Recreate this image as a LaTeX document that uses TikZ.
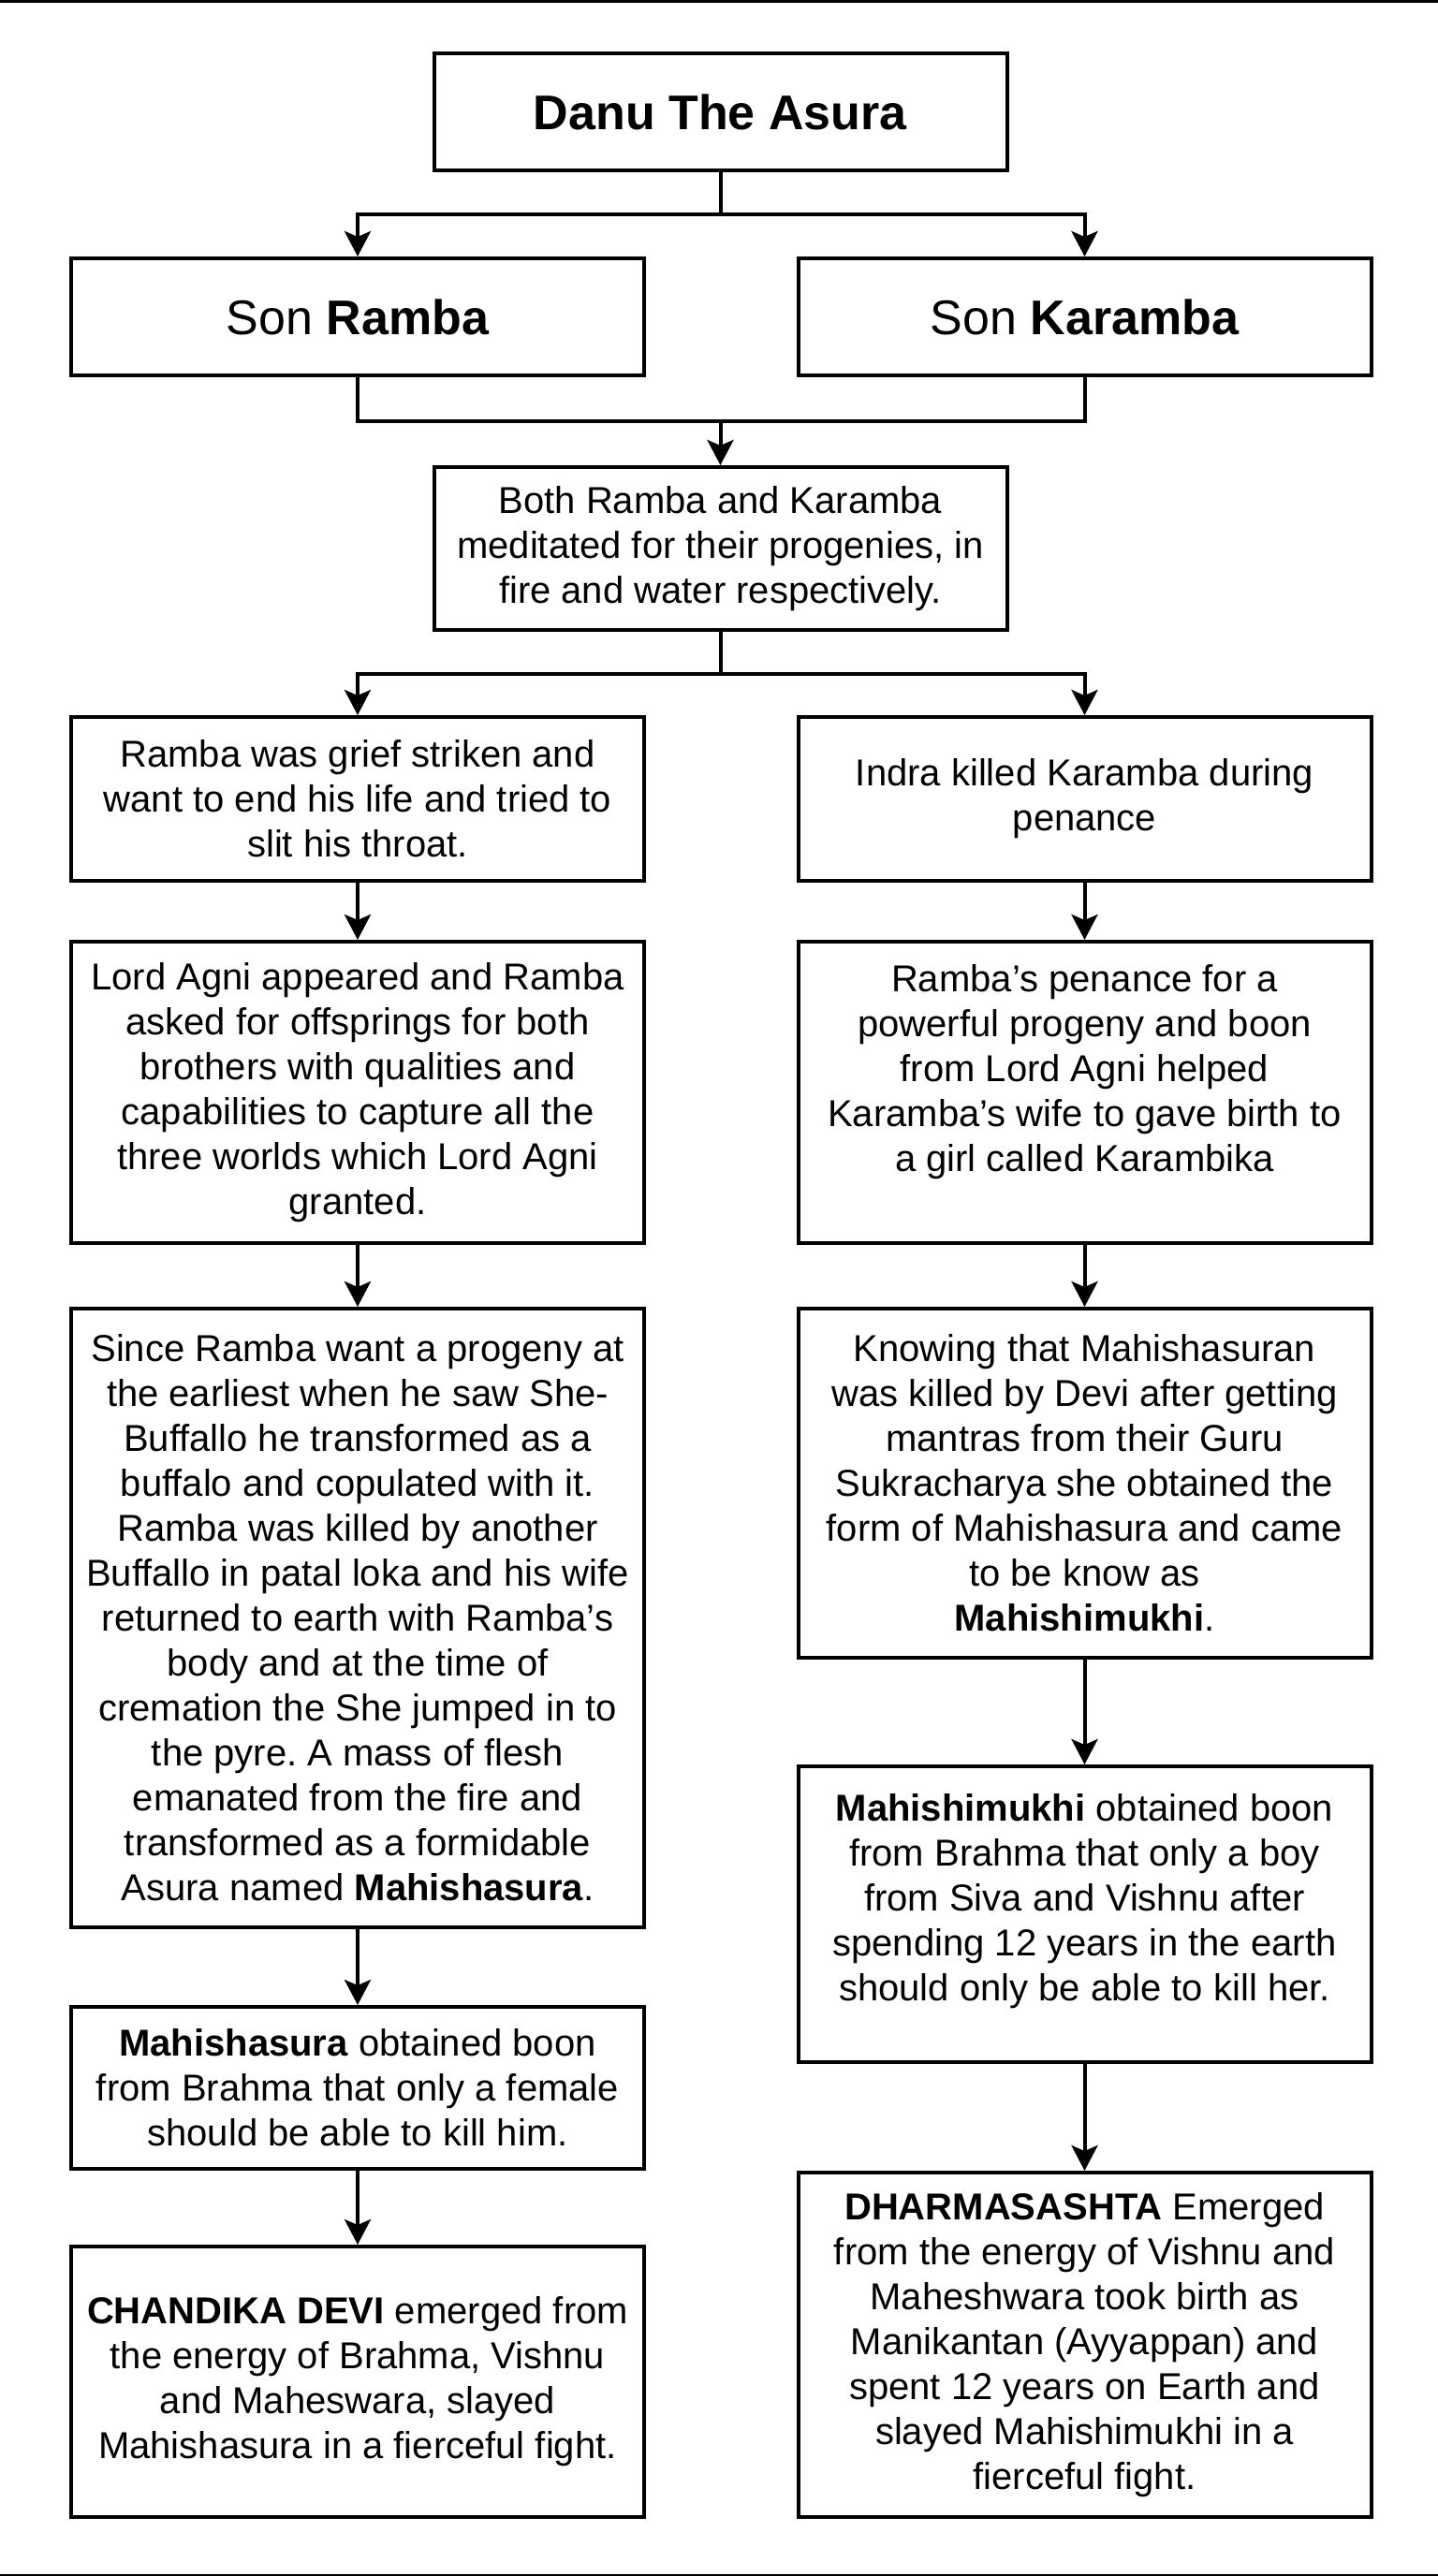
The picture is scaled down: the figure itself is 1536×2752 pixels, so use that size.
\documentclass[tikz,border=0pt]{standalone}
\usepackage{fontspec}
\setmainfont{Liberation Sans}
\usetikzlibrary{arrows.meta,calc}
\begin{document}
\frenchspacing
\begin{tikzpicture}[x=0.5pt,y=-0.5pt,
  box/.style={draw=black,line width=2pt,fill=white,align=center,inner sep=0pt,
    font=\fontsize{20pt}{24pt}\selectfont},
  lbox/.style={box,minimum width=306pt},
  bigtxt/.style={font=\fontsize{26pt}{31pt}\selectfont},
  txt/.style={align=center,inner sep=0pt,font=\fontsize{20pt}{24pt}\selectfont},
  conn/.style={line width=2pt,line join=miter},
  arr/.style={conn,-{Stealth[length=13.5pt,width=14pt,inset=3pt]}},
  rulebar/.style={line width=1.5pt}
]
\useasboundingbox (0,0) rectangle (1536,2752);
\draw[rulebar] (0,1.5) -- (1536,1.5);
\draw[line width=1pt] (0,2751) -- (1536,2751);

\node[lbox,bigtxt,minimum height=62.5pt] (danu) at (769.5,119.5) {\textbf{Danu The Asura}};
\node[lbox,bigtxt,minimum height=62.5pt] (ramba) at (382,338.5) {Son \textbf{Ramba}};
\node[lbox,bigtxt,minimum height=62.5pt] (karamba) at (1158.5,338.5) {Son \textbf{Karamba}};
\node[lbox,minimum height=87pt] (both) at (769.5,586) {Both Ramba and Karamba\\meditated for their progenies, in\\fire and water respectively.};

\node[lbox,minimum height=87.5pt] (l1) at (382,853.5) {Ramba was grief striken and\\want to end his life and tried to\\slit his throat.};
\node[lbox,minimum height=87.5pt] (r1) at (1158.5,853.5) {Indra killed Karamba during\\penance};

\node[lbox,minimum height=161pt] (l2) at (382,1167) {Lord Agni appeared and Ramba\\asked for offsprings for both\\brothers with qualities and\\capabilities to capture all the\\three worlds which Lord Agni\\granted.};
\node[lbox,minimum height=161pt] (r2) at (1158.5,1167) {};
\node[txt] (r2t) at ([yshift=11pt]r2.center) {Ramba's penance for a\\powerful progeny and boon\\from Lord Agni helped\\Karamba's wife to gave birth to\\a girl called Karambika};

\node[lbox,minimum height=330.5pt] (l3) at (382,1728.5) {Since Ramba want a progeny at\\the earliest when he saw She-\\Buffallo he transformed as a\\buffalo and copulated with it.\\Ramba was killed by another\\Buffallo in patal loka and his wife\\returned to earth with Ramba's\\body and at the time of\\cremation the She jumped in to\\the pyre. A mass of flesh\\emanated from the fire and\\transformed as a formidable\\Asura named \textbf{Mahishasura}.};
\node[lbox,minimum height=186.5pt] (r3) at (1158.5,1584.5) {Knowing that Mahishasuran\\was killed by Devi after getting\\mantras from their Guru\\Sukracharya she obtained the\\form of Mahishasura and came\\to be know as\\\textbf{Mahishimukhi}.};

\node[lbox,minimum height=86.5pt] (l4) at (382,2230.5) {\textbf{Mahishasura} obtained boon\\from Brahma that only a female\\should be able to kill him.};
\node[lbox,minimum height=158pt] (r4) at (1158.5,2045) {};
\node[txt] (r4t) at ([yshift=7pt]r4.center) {\textbf{Mahishimukhi} obtained boon\\from Brahma that only a boy\\from Siva and Vishnu after\\spending 12 years in the earth\\should only be able to kill her.};

\node[lbox,minimum height=144.5pt] (l5) at (382,2544.5) {\textbf{CHANDIKA DEVI} emerged from\\the energy of Brahma, Vishnu\\and Maheswara, slayed\\Mahishasura in a fierceful fight.};
\node[lbox,minimum height=184pt] (r5) at (1158.5,2505) {\textbf{DHARMASASHTA} Emerged\\from the energy of Vishnu and\\Maheshwara took birth as\\Manikantan (Ayyappan) and\\spent 12 years on Earth and\\slayed Mahishimukhi in a\\fierceful fight.};

% connectors
\coordinate (j1) at (769.5,229);
\draw[conn] (danu.south) -- (j1);
\draw[arr] (j1) -| (ramba.north);
\draw[arr] (j1) -| (karamba.north);

\coordinate (j2) at (769.5,450);
\draw[conn] (ramba.south) |- (j2) -| (karamba.south);
\draw[arr] (j2) -- (both.north);

\coordinate (j3) at (769.5,720);
\draw[conn] (both.south) -- (j3);
\draw[arr] (j3) -| (l1.north);
\draw[arr] (j3) -| (r1.north);

\draw[arr] (l1.south) -- (l2.north);
\draw[arr] (l2.south) -- (l3.north);
\draw[arr] (l3.south) -- (l4.north);
\draw[arr] (l4.south) -- (l5.north);

\draw[arr] (r1.south) -- (r2.north);
\draw[arr] (r2.south) -- (r3.north);
\draw[arr] (r3.south) -- (r4.north);
\draw[arr] (r4.south) -- (r5.north);
\end{tikzpicture}
\end{document}
